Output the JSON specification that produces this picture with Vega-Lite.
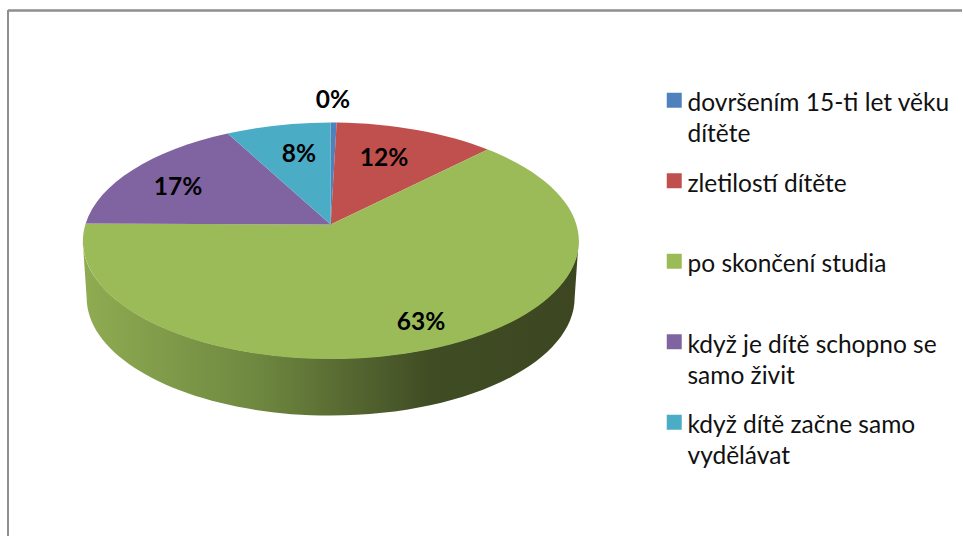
{
"$schema":"https://vega.github.io/schema/vega-lite/v6.json",
"width":963,"height":537,"padding":0,
"autosize":{"type":"fit","contains":"padding"},
"background":"white",
"config":{"view":{"stroke":null},"font":"Lato"},
"data":{"values":[
{"category":"dovršením 15-ti let věku dítěte","share":0.004},
{"category":"zletilostí dítěte","share":0.12},
{"category":"po skončení studia","share":0.63},
{"category":"když je dítě schopno se samo živit","share":0.17},
{"category":"když dítě začne samo vydělávat","share":0.08}
]},
"resolve":{"scale":{"x":"independent","y":"independent"}},
"layer":[
{"mark":{"type":"rule","color":"#8f8f8f","strokeWidth":1.5},
 "encoding":{"x":{"datum":8,"type":"quantitative","axis":null,"scale":{"domain":[0,963]}},"y":{"datum":10.5,"type":"quantitative","axis":null,"scale":{"domain":[537,0]}},"y2":{"datum":537}}},
{"mark":{"type":"rule","color":"#8f8f8f","strokeWidth":1.5},
 "encoding":{"x":{"datum":8,"type":"quantitative","axis":null,"scale":{"domain":[0,963]}},"x2":{"datum":963},"y":{"datum":10.5,"type":"quantitative","axis":null,"scale":{"domain":[537,0]}}}},
{"mark":{"type":"square","filled":true,"opacity":1,"strokeWidth":0,"size":1},
 "encoding":{
  "x":{"datum":331,"type":"quantitative","axis":null,"scale":{"domain":[0,963]}},
  "y":{"datum":225,"type":"quantitative","axis":null,"scale":{"domain":[537,0]}},
  "color":{"field":"category","type":"nominal",
   "scale":{"domain":["dovršením 15-ti let věku dítěte","zletilostí dítěte","po skončení studia","když je dítě schopno se samo živit","když dítě začne samo vydělávat"],
    "range":["#4F81BD","#C0504D","#9BBB59","#8064A2","#4BACC6"]},
   "legend":{"title":null,"orient":"none","legendX":662,"legendY":88,"symbolType":"square","symbolSize":225,"symbolStrokeWidth":0,"symbolOpacity":1,
    "symbolBaseline":"top","labelBaseline":"top","labelOffset":1,"labelFont":"Lato","labelFontSize":24.5,"labelColor":"#111111","labelLimit":300,"gridAlign":"all","rowPadding":21.5,
    "labelExpr":"datum.label=='dovršením 15-ti let věku dítěte'?['dovršením 15-ti let věku','dítěte']:datum.label=='když je dítě schopno se samo živit'?['když je dítě schopno se','samo živit']:datum.label=='když dítě začne samo vydělávat'?['když dítě začne samo','vydělávat']:datum.label",
    "encode":{"labels":{"update":{"lineHeight":{"value":31},"dy":{"value":-8}}}}}}
 }},
{"transform":[{"filter":{"field":"category","equal":"po skončení studia"}}],
 "mark":{"type":"point","filled":true,"opacity":1,"strokeWidth":0,"size":4,
  "shape":"M-248 16L-244 73A244 118 0 0 0 244 73L248 16A248 118 0 0 1 -248 16Z",
  "color":{"gradient":"linear","x1":0,"y1":0,"x2":1,"y2":0,"stops":[{"offset":0,"color":"#8fac52"},{"offset":0.35,"color":"#6f8840"},{"offset":0.7,"color":"#404c24"},{"offset":1,"color":"#3c4721"}]}},
 "encoding":{"x":{"datum":331,"type":"quantitative","axis":null,"scale":{"domain":[0,963]}},"y":{"datum":225,"type":"quantitative","axis":null,"scale":{"domain":[537,0]}}}},
{"transform":[{"filter":{"field":"category","equal":"dovršením 15-ti let věku dítěte"}}],
 "mark":{"type":"point","filled":true,"opacity":1,"strokeWidth":0,"size":4,"shape":"M0 0L0 -102A248 118 0 0 1 6 -102Z"},
 "encoding":{"x":{"datum":331,"type":"quantitative","axis":null,"scale":{"domain":[0,963]}},"y":{"datum":225,"type":"quantitative","axis":null,"scale":{"domain":[537,0]}},"color":{"field":"category","type":"nominal","legend":null}}},
{"transform":[{"filter":{"field":"category","equal":"zletilostí dítěte"}}],
 "mark":{"type":"point","filled":true,"opacity":1,"strokeWidth":0,"size":4,"shape":"M0 0L6 -102A248 118 0 0 1 157 -75Z"},
 "encoding":{"x":{"datum":331,"type":"quantitative","axis":null,"scale":{"domain":[0,963]}},"y":{"datum":225,"type":"quantitative","axis":null,"scale":{"domain":[537,0]}},"color":{"field":"category","type":"nominal","legend":null}}},
{"transform":[{"filter":{"field":"category","equal":"po skončení studia"}}],
 "mark":{"type":"point","filled":true,"opacity":1,"strokeWidth":0,"size":4,"shape":"M0 0L157 -75A248 118 0 1 1 -245 -1Z"},
 "encoding":{"x":{"datum":331,"type":"quantitative","axis":null,"scale":{"domain":[0,963]}},"y":{"datum":225,"type":"quantitative","axis":null,"scale":{"domain":[537,0]}},"color":{"field":"category","type":"nominal","legend":null}}},
{"transform":[{"filter":{"field":"category","equal":"když je dítě schopno se samo živit"}}],
 "mark":{"type":"point","filled":true,"opacity":1,"strokeWidth":0,"size":4,"shape":"M0 0L-245 -1A248 118 0 0 1 -103 -91Z"},
 "encoding":{"x":{"datum":331,"type":"quantitative","axis":null,"scale":{"domain":[0,963]}},"y":{"datum":225,"type":"quantitative","axis":null,"scale":{"domain":[537,0]}},"color":{"field":"category","type":"nominal","legend":null}}},
{"transform":[{"filter":{"field":"category","equal":"když dítě začne samo vydělávat"}}],
 "mark":{"type":"point","filled":true,"opacity":1,"strokeWidth":0,"size":4,"shape":"M0 0L-103 -91A248 118 0 0 1 0 -102Z"},
 "encoding":{"x":{"datum":331,"type":"quantitative","axis":null,"scale":{"domain":[0,963]}},"y":{"datum":225,"type":"quantitative","axis":null,"scale":{"domain":[537,0]}},"color":{"field":"category","type":"nominal","legend":null}}},
{"mark":{"type":"text","font":"Lato","fontWeight":"bold","fontSize":24.5,"color":"black","align":"center","baseline":"middle"},
 "encoding":{
  "x":{"field":"share","type":"quantitative","axis":null,"scale":{"domain":[0.004,0.08,0.12,0.17,0.63],"range":[333,299,384,178,421]}},
  "y":{"field":"share","type":"quantitative","axis":null,"scale":{"domain":[0.004,0.08,0.12,0.17,0.63],"range":[101,155,159,188,323]}},
  "text":{"field":"share","type":"quantitative","format":".0%"}}}
]
}
